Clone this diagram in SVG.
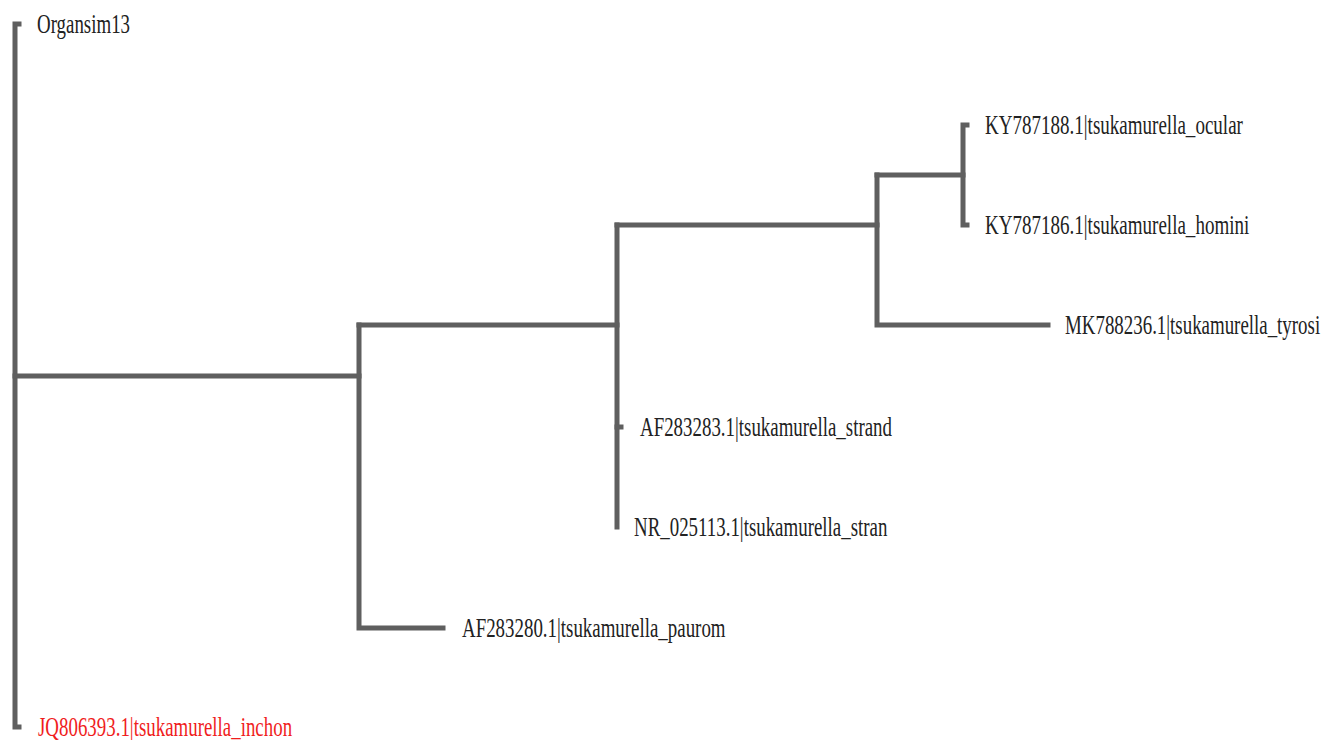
<svg xmlns="http://www.w3.org/2000/svg" width="1322" height="740" viewBox="0 0 1322 740">
<style>
.br{fill:none;stroke:#5f5f5f;stroke-width:5;stroke-linecap:square;stroke-linejoin:miter}
.lb{font-family:"Liberation Serif","Times New Roman",serif;font-size:27px;fill:#222}
.red{fill:#f01d1d}
</style>
<rect width="1322" height="740" fill="#fff"/>
<g id="connectors">
<path class="br" d="M19,24 H15 V727 H19"/>
<path class="br" d="M15,376 H359"/>
<path class="br" d="M359,325 V628 H443"/>
<path class="br" d="M359,325 H617"/>
<path class="br" d="M617,225 V527"/>
<path class="br" d="M617,427 H621"/>
<path class="br" d="M617,225 H877"/>
<path class="br" d="M877,175 V325 H1048"/>
<path class="br" d="M877,175 H963"/>
<path class="br" d="M967,125 H963 V225 H967"/>
</g>
<g id="n-organsim13"><text class="lb" transform="translate(37,33) scale(0.7,1)">Organsim13</text></g>
<g id="n-ky787188"><text class="lb" transform="translate(985,134) scale(0.705,1)">KY787188.1|tsukamurella_ocular</text></g>
<g id="n-ky787186"><text class="lb" transform="translate(985,234) scale(0.705,1)">KY787186.1|tsukamurella_homini</text></g>
<g id="n-mk788236"><text class="lb" transform="translate(1065,334) scale(0.7,1)">MK788236.1|tsukamurella_tyrosi</text></g>
<g id="n-af283283"><text class="lb" transform="translate(640,436) scale(0.7,1)">AF283283.1|tsukamurella_strand</text></g>
<g id="n-nr025113"><text class="lb" transform="translate(634,536) scale(0.7,1)">NR_025113.1|tsukamurella_stran</text></g>
<g id="n-af283280"><text class="lb" transform="translate(462,637) scale(0.7,1)">AF283280.1|tsukamurella_paurom</text></g>
<g id="n-jq806393"><text class="lb red" transform="translate(38,736) scale(0.7,1)">JQ806393.1|tsukamurella_inchon</text></g>
</svg>
